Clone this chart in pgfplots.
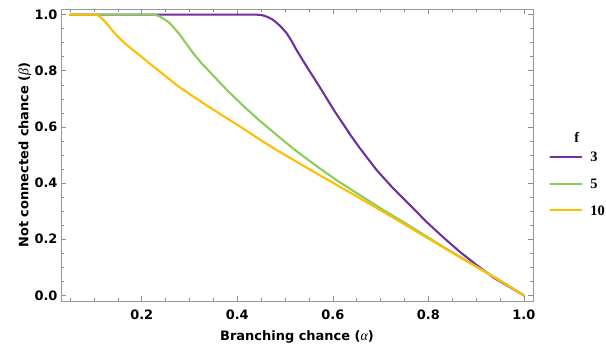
\documentclass[border=0pt]{standalone}
\usepackage{fontspec}
\setmainfont{DejaVu Sans}
\newfontfamily\legfont{Liberation Serif}
\usepackage{pgfplots}
\pgfplotsset{compat=1.18}
\definecolor{cpurple}{RGB}{112,48,160}
\definecolor{cgreen}{RGB}{140,205,90}
\definecolor{corange}{RGB}{255,190,0}
\newcommand{\grk}[1]{{\legfont\mdseries\itshape\fontsize{14}{15}\selectfont #1}}
\begin{document}
\begin{tikzpicture}
\useasboundingbox (-61bp,-49bp) rectangle (545bp,301bp);
\begin{axis}[
  at={(0,0)}, anchor=south west,
  scale only axis, width=472bp, height=292bp,
  xmin=0.031, xmax=1.019, ymin=-0.02, ymax=1.02,
  xtick={0.2,0.4,0.6,0.8,1.0},
  ytick={0,0.2,0.4,0.6,0.8,1.0},
  minor xtick={0.05,0.1,0.15,0.25,0.3,0.35,0.45,0.5,0.55,0.65,0.7,0.75,0.85,0.9,0.95},
  minor ytick={0.05,0.1,0.15,0.25,0.3,0.35,0.45,0.5,0.55,0.65,0.7,0.75,0.85,0.9,0.95},
  major tick length=5bp, minor tick length=3bp,
  tick style={color=black!45, line width=0.6pt},
  axis line style={color=black!40, line width=0.8pt},
  /pgf/number format/.cd, fixed, fixed zerofill, precision=1, assume math mode=true, /pgfplots/.cd,
  tick label style={font=\fontsize{13}{15}\selectfont\bfseries},
  xticklabel style={yshift=-5.5bp},
  xlabel={Branching chance (\grk{α})},
  ylabel={Not connected chance (\grk{β})},
  label style={font=\fontsize{13}{15}\selectfont\bfseries},
  xlabel style={at={([yshift=-36bp]axis description cs:0.5,0)}, anchor=center},
  ylabel style={at={([xshift=-36bp]axis description cs:0,0.5)}, anchor=center},
  legend style={draw=none, fill=none, at={(1.034,0.402)}, anchor=west,
    font=\fontsize{14.5}{16}\selectfont\legfont\bfseries,
    row sep=16.7bp, inner sep=0pt,
    nodes={inner sep=0pt, text height=10bp, text depth=0pt}},
  legend image code/.code={\draw[#1] (0bp,0bp) -- (31bp,0bp);},
  legend cell align=left,
  /tikz/every odd column/.append style={column sep=8bp},
  every axis plot/.append style={line width=2.1bp, line join=round, line cap=round},
]
\addplot[cpurple] coordinates {
(0.05,1) (0.44,1) (0.452,0.998) (0.4615,0.993) (0.4724,0.984) (0.4824,0.971) (0.493,0.954) (0.5033,0.934)
(0.514,0.905) (0.524,0.874) (0.538,0.835) (0.552,0.797) (0.57,0.749) (0.587,0.702) (0.604,0.655) (0.6218,0.610) (0.639,0.566) (0.6567,0.524)
(0.6916,0.4465) (0.7264,0.381) (0.7613,0.322) (0.796,0.262) (0.831,0.207)
(0.866,0.155) (0.901,0.108) (0.9356,0.064) (0.96,0.040) (1,0)
};
\addlegendentry{3}
\addplot[cgreen] coordinates {
(0.05,1) (0.222,1) (0.231,0.998) (0.238,0.993) (0.248,0.983) (0.259,0.969) (0.269,0.950) (0.28,0.928) (0.294,0.895) (0.308,0.862)
(0.325,0.827) (0.343,0.795) (0.378,0.732) (0.4126,0.675) (0.447,0.622) (0.482,0.572) (0.5207,0.518) (0.5695,0.456)
(0.6125,0.405) (0.6567,0.357) (0.70,0.310) (0.747,0.262) (0.831,0.173) (0.96,0.043) (1,0)
};
\addlegendentry{5}
\addplot[corange] coordinates {
(0.05,1) (0.104,1) (0.110,0.996) (0.1197,0.981) (0.13,0.962) (0.1406,0.939) (0.154,0.915) (0.1686,0.892)
(0.186,0.868) (0.2033,0.845) (0.22,0.821) (0.238,0.797) (0.273,0.749) (0.308,0.708) (0.343,0.669)
(0.378,0.631) (0.4126,0.594) (0.447,0.555) (0.482,0.518) (0.5695,0.431) (0.6567,0.346) (0.747,0.256)
(0.831,0.171) (0.96,0.042) (1,0)
};
\addlegendentry{10}
\end{axis}
\node[font=\fontsize{14.5}{16}\selectfont\legfont\bfseries, inner sep=0pt] at (515.7bp,163.7bp) {f};
\end{tikzpicture}
\end{document}
